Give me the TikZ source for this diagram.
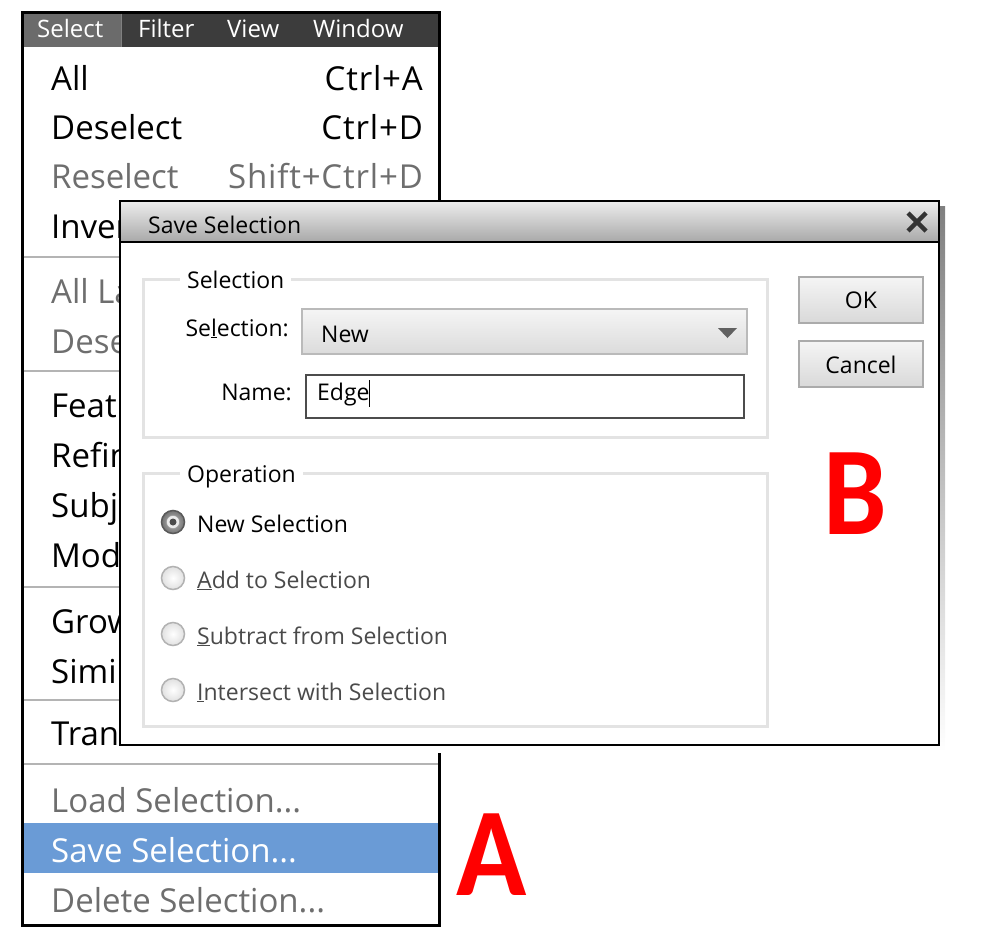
\documentclass[tikz,border=0pt]{standalone}
\usepackage{fontspec}
\setmainfont{Open Sans}
\newfontfamily\bigfont{Carlito}
\usepackage{xcolor}
\usetikzlibrary{positioning}
\definecolor{menubar}{HTML}{3C3C3C}
\definecolor{menusel}{HTML}{6B6B6B}
\definecolor{dimtext}{HTML}{6E6E6E}
\definecolor{seprule}{HTML}{B4B4B4}
\definecolor{hilite}{HTML}{6A9BD6}
\definecolor{groupline}{HTML}{E3E3E3}
\definecolor{radiotext}{HTML}{4A4A4A}
\definecolor{shade}{HTML}{454545}
\newcommand{\tdots}{...}

\begin{document}
\begin{tikzpicture}[x=1pt,y=-1pt,
	item/.style={anchor=base west, inner sep=0pt, font=\fontsize{33}{40}\selectfont},
	key/.style={anchor=base east, inner sep=0pt, font=\fontsize{33}{40}\selectfont\addfontfeature{LetterSpace=2.5}},
	bartext/.style={anchor=base west, inner sep=0pt, text=white, font=\fontsize{24}{29}\selectfont},
	dlgtext/.style={anchor=base west, inner sep=0pt, font=\fontsize{23}{28}\selectfont},
	grpbox/.style={draw=groupline, line width=3pt},
	btnbox/.style={draw=black!33, line width=1.5pt, top color=black!4, bottom color=black!15},
	letter/.style={text=red, inner sep=0pt, anchor=base, font=\bigfont\bfseries\fontsize{126}{126}\selectfont}]

		\useasboundingbox (0,0) rectangle (994,946);

		%menu frame
		\filldraw[draw=black, fill=white, line width=3pt] (22,12) rectangle (439,925);
		\fill[menubar] (23.5,13.5) rectangle (437.5,47);
		\fill[menusel] (23.5,13.5) rectangle (121,47);
		\draw[black!50] (121,13.5) -- (121,47);

		%menu bar
		\node[bartext] (mselect) at (37,37) {Select};
		\node[bartext] (mfilter) at (138,37) {Filter};
		\node[bartext] (mview) at (227,37) {View};
		\node[bartext] (mwindow) at (313,37) {Window};

		%separators
		\foreach \y in {257,371,587,700,764}
		\draw[seprule, line width=1.5pt] (23.5,\y) -- (437.5,\y);

		%highlighted item
		\fill[hilite] (23.5,823) rectangle (437.5,873);

		%menu items (the cut ones end under the dialog)
		\foreach \y/\name/\txt in {90/iall/All, 139/idesel/Deselect, 238/iinv/Inver, 417/ifeath/Feath, 467/irefine/Refin, 517/isubj/Subje, 567/imodify/Mod, 633/igrow/Grow, 683/isimilar/Simil, 745/itrans/Transform Selection}
		\node[item] (\name) at (51,\y) {\txt};
		\foreach \y/\name/\txt in {188/iresel/Reselect, 303/ialllay/All La, 353/idesellay/Dese, 812/iload/{Load Selection\tdots}, 912/idelete/{Delete Selection\tdots}}
		\node[item, text=dimtext] (\name) at (51,\y) {\txt};
		\node[item, text=white] (isave) at (51,862) {Save Selection\tdots};

		%shortcuts
		\node[key] (kall) at (423,90) {Ctrl+A};
		\node[key] (kdesel) at (423,139) {Ctrl+D};
		\node[key, text=dimtext] (kresel) at (423,188) {Shift+Ctrl+D};

		\node[letter] (lettera) at (492,895) {\scalebox{0.92}[1]{A}};

		%dialog
		\fill[shade] (125,206) rectangle (945,752);
		\fill[white] (120,201) rectangle (939,745);
		\shade[top color=black!7, bottom color=black!34] (120,201) rectangle (939,242);
		\draw[black, line width=2.5pt] (120,242) -- (939,242);
		\draw[black, line width=2pt] (120,201) rectangle (939,745);
		\node[dlgtext] (title) at (148,233) {Save Selection};
		\draw[black!80, line width=4.5pt] (908,213) -- (926,231);
		\draw[black!80, line width=4.5pt] (908,231) -- (926,213);

		%selection group
		\draw[grpbox] (143,279) rectangle (767,437);
		\node[dlgtext, fill=white, inner xsep=7pt] (selgroup) at (180,288) {Selection};
		\node[dlgtext, anchor=base east] (sellabel) at (289,336) {Se\underline{l}ection:};
		\shadedraw[draw=black!27, line width=2pt, top color=black!4, bottom color=black!14] (302,309) rectangle (747,354);
		\node[dlgtext] (selnew) at (321,342) {New};
		\fill[black!62] (718,328) -- (737,328) -- (727.5,338) -- cycle;
		\node[dlgtext, anchor=base east] (namelabel) at (292,400) {Name:};
		\filldraw[draw=black!70, fill=white, line width=2pt] (306,375) rectangle (744,418);
		\node[dlgtext] (nameedge) at (317,400) {Edge};
		\draw[black, line width=1pt] (nameedge.east |- 0,380) -- (nameedge.east |- 0,407);

		%buttons
		\shadedraw[btnbox] (799,277) rectangle (923,323);
		\node[dlgtext, anchor=base] (okbtn) at (861,308) {OK};
		\shadedraw[btnbox] (799,341) rectangle (923,387);
		\node[dlgtext, anchor=base] (cancelbtn) at (861,373) {Cancel};

		%operation group
		\draw[grpbox] (143,473) rectangle (767,726);
		\node[dlgtext, fill=white, inner xsep=7pt] (opgroup) at (180,482) {Operation};

		%radio buttons
		\shadedraw[draw=black!65, line width=1.5pt, inner color=black!25, outer color=black!55] (173,522) circle (11.5);
		\filldraw[draw=black!40, fill=black!8] (173,522) circle (6.5);
		\fill[black!70] (173,522) circle (3.5);
		\node[dlgtext] (rnew) at (197,532) {New Selection};
		\foreach \y/\name/\txt in {578/radd/{\underline{A}dd to Selection}, 634/rsub/{\underline{S}ubtract from Selection}, 690/rint/{\underline{I}ntersect with Selection}}
		{
		\shadedraw[draw=black!30, line width=1.5pt, inner color=white, outer color=black!12] (173,\y) circle (11.5);
		\node[dlgtext, text=radiotext] (\name) at (197,\y+10) {\txt};
		}

		\node[letter] (letterb) at (855,534) {\scalebox{0.9}[1]{B}};
			\end{tikzpicture}
\end{document}
